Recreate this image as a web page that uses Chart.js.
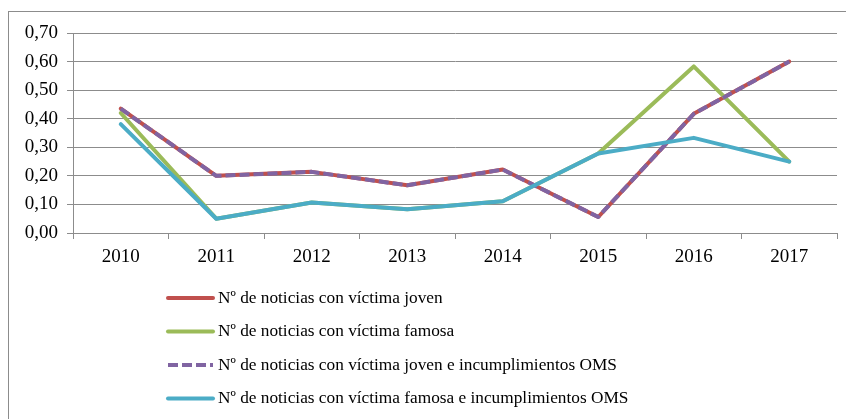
<!DOCTYPE html>
<html>
<head>
<meta charset="utf-8">
<script src="https://cdn.jsdelivr.net/npm/chart.js@4"></script>
<style>
  html, body { margin: 0; padding: 0; background: #fff; }
  #wrap { position: relative; width: 846px; height: 419px; overflow: hidden; }
  #frame { position: absolute; left: 8px; top: 11px; width: 900px; height: 500px; border: 1px solid #8c8c8c; pointer-events: none; }
  canvas { position: absolute; left: 0; top: 0; }
</style>
</head>
<body>
<div id="wrap">
  <div id="frame"></div>
  <canvas id="chart" width="846" height="419"></canvas>
</div>
<script>
const years = ["2010", "2011", "2012", "2013", "2014", "2015", "2016", "2017"];
const joven = [0.435, 0.20, 0.214, 0.167, 0.222, 0.056, 0.417, 0.60];
const famosa = [0.42, 0.05, 0.107, 0.083, 0.111, 0.278, 0.583, 0.25];
const jovenOMS = [0.435, 0.20, 0.214, 0.167, 0.222, 0.056, 0.417, 0.60];
const famosaOMS = [0.381, 0.05, 0.107, 0.083, 0.111, 0.278, 0.333, 0.25];
const seriesNames = [
    "Nº de noticias con víctima joven",
    "Nº de noticias con víctima famosa",
    "Nº de noticias con víctima joven e incumplimientos OMS",
    "Nº de noticias con víctima famosa e incumplimientos OMS"
];

const serif = "'Liberation Serif', 'Times New Roman', serif";

// legend drawn as a vertical list under the plot, like the original
const listLegend = {
    id: "listLegend",
    afterDraw(chart) {
        const ctx = chart.ctx;
        const top = chart.chartArea.bottom + 65;
        ctx.save();
        ctx.font = "17.3px " + serif;
        ctx.fillStyle = "#000";
        ctx.textBaseline = "middle";
        chart.data.datasets.forEach((ds, i) => {
            const y = top + i * 33.5;
            ctx.beginPath();
            ctx.lineWidth = 4;
            ctx.lineCap = ds.borderDash ? "butt" : "round";
            ctx.strokeStyle = ds.borderColor;
            ctx.setLineDash(ds.borderDash || []);
            ctx.moveTo(168, y);
            ctx.lineTo(213, y);
            ctx.stroke();
            ctx.setLineDash([]);
            ctx.fillText(ds.label, 218, y);
        });
        ctx.restore();
    }
};

new Chart(document.getElementById("chart"), {
    type: "line",
    data: {
        labels: years,
        datasets: [
            { label: seriesNames[0], data: joven, borderColor: "#C0504D", order: 3 },
            { label: seriesNames[1], data: famosa, borderColor: "#9BBB59", order: 2 },
            { label: seriesNames[2], data: jovenOMS, borderColor: "#8064A2", borderDash: [10, 4], borderCapStyle: "butt", order: 1 },
            { label: seriesNames[3], data: famosaOMS, borderColor: "#4BACC6", order: 0 }
        ]
    },
    options: {
        responsive: false,
        animation: false,
        layout: { padding: { left: 13, top: 33, right: 9, bottom: 146 } },
        elements: {
            line: { borderWidth: 4, tension: 0, fill: false, borderCapStyle: "round", borderJoinStyle: "round" },
            point: { radius: 0, hoverRadius: 0 }
        },
        plugins: {
            legend: { display: false },
            tooltip: { enabled: false }
        },
        scales: {
            x: {
                offset: true,
                afterFit: (scale) => { scale.height = 40; },
                grid: { display: true, drawOnChartArea: false, offset: true, color: "#8c8c8c", tickLength: 6, tickColor: "#8c8c8c" },
                border: { color: "#8c8c8c" },
                ticks: { color: "#000", font: { family: serif, size: 19 }, padding: 7, maxRotation: 0 }
            },
            y: {
                min: 0,
                max: 0.7,
                afterFit: (scale) => { scale.width = 60; },
                grid: { color: "#8c8c8c", tickLength: 6, tickColor: "#8c8c8c" },
                border: { color: "#8c8c8c" },
                ticks: {
                    stepSize: 0.1,
                    color: "#000",
                    font: { family: serif, size: 19 },
                    padding: 9,
                    callback: (v) => v.toFixed(2).replace(".", ",")
                }
            }
        }
    },
    plugins: [listLegend]
});
</script>
</body>
</html>
